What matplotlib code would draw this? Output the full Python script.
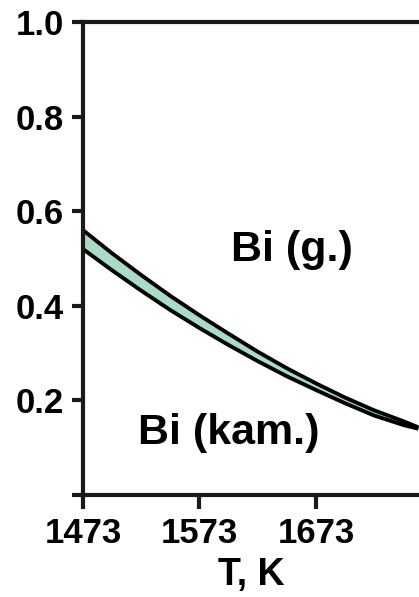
import matplotlib
matplotlib.use('Agg')
import matplotlib.pyplot as plt

# temperatures, K
T = [1473, 1498, 1523, 1548, 1573, 1598, 1623, 1648, 1673, 1698, 1723, 1748, 1761]
# upper and lower boundary of the band
upper = [0.560, 0.511, 0.465, 0.421, 0.380, 0.341, 0.303, 0.268, 0.236, 0.206, 0.179, 0.156, 0.143]
lower = [0.520, 0.475, 0.432, 0.391, 0.353, 0.317, 0.283, 0.251, 0.222, 0.194, 0.168, 0.148, 0.140]

xticks = [1473, 1573, 1673]
yticks = [0.0, 0.2, 0.4, 0.6, 0.8, 1.0]
ylabels = ['', '0.2', '0.4', '0.6', '0.8', '1.0']

plt.rcParams['font.family'] = ['Liberation Sans', 'DejaVu Sans']
plt.rcParams['font.weight'] = 'bold'

fig = plt.figure(figsize=(4.19, 5.97), dpi=100)
ax = fig.add_axes([0.198, 0.1709, 0.802, 0.7922])

ax.fill_between(T, lower, upper, color='#a9dcc8', lw=0)
ax.plot(T, upper, color='black', lw=2.8, solid_capstyle='butt')
ax.plot(T, lower, color='black', lw=2.8, solid_capstyle='butt')

ax.set_xlim(1473, 1761.5)
ax.set_ylim(0, 1.0)
ax.spines['right'].set_visible(False)
for s in ['left', 'top', 'bottom']:
    ax.spines[s].set_linewidth(3)
    ax.spines[s].set_color('#1a1a1a')

ax.set_xticks(xticks)
ax.set_xticklabels([str(t) for t in xticks], fontsize=25, fontweight='bold')
ax.set_yticks(yticks)
ax.set_yticklabels(ylabels, fontsize=25, fontweight='bold')
ax.tick_params(axis='x', direction='out', length=10, width=3, pad=6, color='#1a1a1a')
ax.tick_params(axis='y', direction='out', length=8, width=3, pad=6, color='#1a1a1a')

ax.set_xlabel('T, K', fontsize=27, fontweight='bold', labelpad=5)

ax.text(1652, 0.518, 'Bi (g.)', fontsize=31, fontweight='bold', ha='center', va='center')
ax.text(1598, 0.13, 'Bi (kam.)', fontsize=31, fontweight='bold', ha='center', va='center')

fig.savefig('out.png', dpi=100)
plt.close(fig)
